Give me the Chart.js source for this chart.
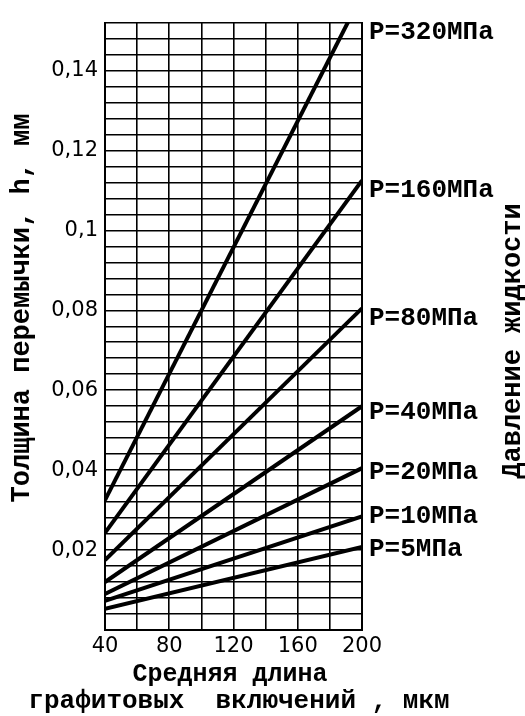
<!DOCTYPE html>
<html><head><meta charset="utf-8">
<script src="https://cdn.jsdelivr.net/npm/chart.js@4.4.0/dist/chart.umd.min.js"></script>
<style>html,body{margin:0;padding:0;background:#fff;}#wrap{width:525px;height:716px;position:relative;}</style>
</head><body><div id="wrap"><canvas id="c" width="525" height="716"></canvas></div>
<script>
// ---- data ----
const seriesNames = ['P=320МПа','P=160МПа','P=80МПа','P=40МПа','P=20МПа','P=10МПа','P=5МПа'];
const xPoints = [40, 200];
const hAt40  = [0.0325, 0.0243, 0.0175, 0.0120, 0.0090, 0.0073, 0.0053];
const hAt200 = [0.1590, 0.1125, 0.0805, 0.0560, 0.0405, 0.0284, 0.0208];
const labelY = [0.1495, 0.1100, 0.0780, 0.0545, 0.0395, 0.0284, 0.0202];
const xTickLabels = [40, 80, 120, 160, 200];
const yTickValues = [0.02, 0.04, 0.06, 0.08, 0.1, 0.12, 0.14];
const yTickTexts  = ['0,02', '0,04', '0,06', '0,08', '0,1', '0,12', '0,14'];
const xTitle = ['Средняя длина', 'графитовых  включений , мкм'];
const yTitle = 'Толщина перемычки, h, мм';
const rightTitle = 'Давление жидкости';
const yMax = 0.152, yGridStep = 0.004;

const gridValues = [];
for (let i = 0; i * yGridStep <= yMax + 1e-9; i++) gridValues.push(+(i * yGridStep).toFixed(3));

const MONO = '"Liberation Mono", monospace';

const datasets = seriesNames.map((name, i) => ({
  label: name,
  data: [{x: xPoints[0], y: hAt40[i]}, {x: xPoints[1], y: hAt200[i]}],
  borderColor: '#000', borderWidth: 4, pointRadius: 0, tension: 0, fill: false
}));

const titlesPlugin = {
  id: 'sideTitles',
  afterDraw(chart) {
    const ctx = chart.ctx;
    ctx.save();
    ctx.fillStyle = '#000';
    ctx.textAlign = 'center';
    ctx.textBaseline = 'middle';
    ctx.font = 'bold 27px ' + MONO;
    ctx.save(); ctx.translate(22, 308); ctx.rotate(-Math.PI / 2); ctx.fillText(yTitle, 0, 0); ctx.restore();
    ctx.save(); ctx.translate(513, 341); ctx.rotate(-Math.PI / 2); ctx.fillText(rightTitle, 0, 0); ctx.restore();
    ctx.font = 'bold 25px ' + MONO;
    ctx.fillText(xTitle[0], 230, 675);
    ctx.font = 'bold 26px ' + MONO;
    ctx.fillText(xTitle[1], 239, 701);
    ctx.restore();
  }
};

new Chart(document.getElementById('c'), {
  type: 'line',
  data: { datasets },
  options: {
    responsive: false, animation: false,
    layout: { padding: { top: 13, left: 0, right: 0, bottom: 0 } },
    plugins: { legend: { display: false }, tooltip: { enabled: false } },
    scales: {
      x: {
        type: 'linear', min: 40, max: 200,
        afterBuildTicks: s => { s.ticks = []; for (let v = 40; v <= 200; v += 20) s.ticks.push({value: v}); },
        ticks: {
          autoSkip: false, maxRotation: 0, padding: 4, color: '#000',
          font: { family: '"DejaVu Sans"', size: 21 },
          callback: v => xTickLabels.includes(v) ? String(v) : ''
        },
        grid: { color: '#000', lineWidth: 1.6, drawTicks: false },
        border: { display: true, color: '#000', width: 2 },
        title: { display: false },
        afterFit: s => { s.height = 86; }
      },
      y: {
        type: 'linear', min: 0, max: yMax, position: 'left',
        afterBuildTicks: s => { s.ticks = gridValues.map(v => ({value: v})); },
        ticks: {
          autoSkip: false, padding: 7, color: '#000',
          font: { family: '"DejaVu Sans"', size: 21 },
          callback: v => { const i = yTickValues.findIndex(t => Math.abs(t - v) < 1e-9); return i >= 0 ? yTickTexts[i] : ''; }
        },
        grid: { color: '#000', lineWidth: 1.6, drawTicks: false },
        border: { display: true, color: '#000', width: 2 },
        afterFit: s => { s.width = 105; }
      },
      y2: {
        type: 'linear', min: 0, max: yMax, position: 'right',
        afterBuildTicks: s => { s.ticks = labelY.map(v => ({value: v})); },
        ticks: {
          autoSkip: false, padding: 7, color: '#000',
          font: { family: MONO, size: 26, weight: 'bold' },
          callback: (v, i) => seriesNames[i]
        },
        grid: { display: false, drawTicks: false },
        border: { display: true, color: '#000', width: 2 },
        afterFit: s => { s.width = 163; }
      }
    }
  },
  plugins: [titlesPlugin]
});
</script>
</body></html>
